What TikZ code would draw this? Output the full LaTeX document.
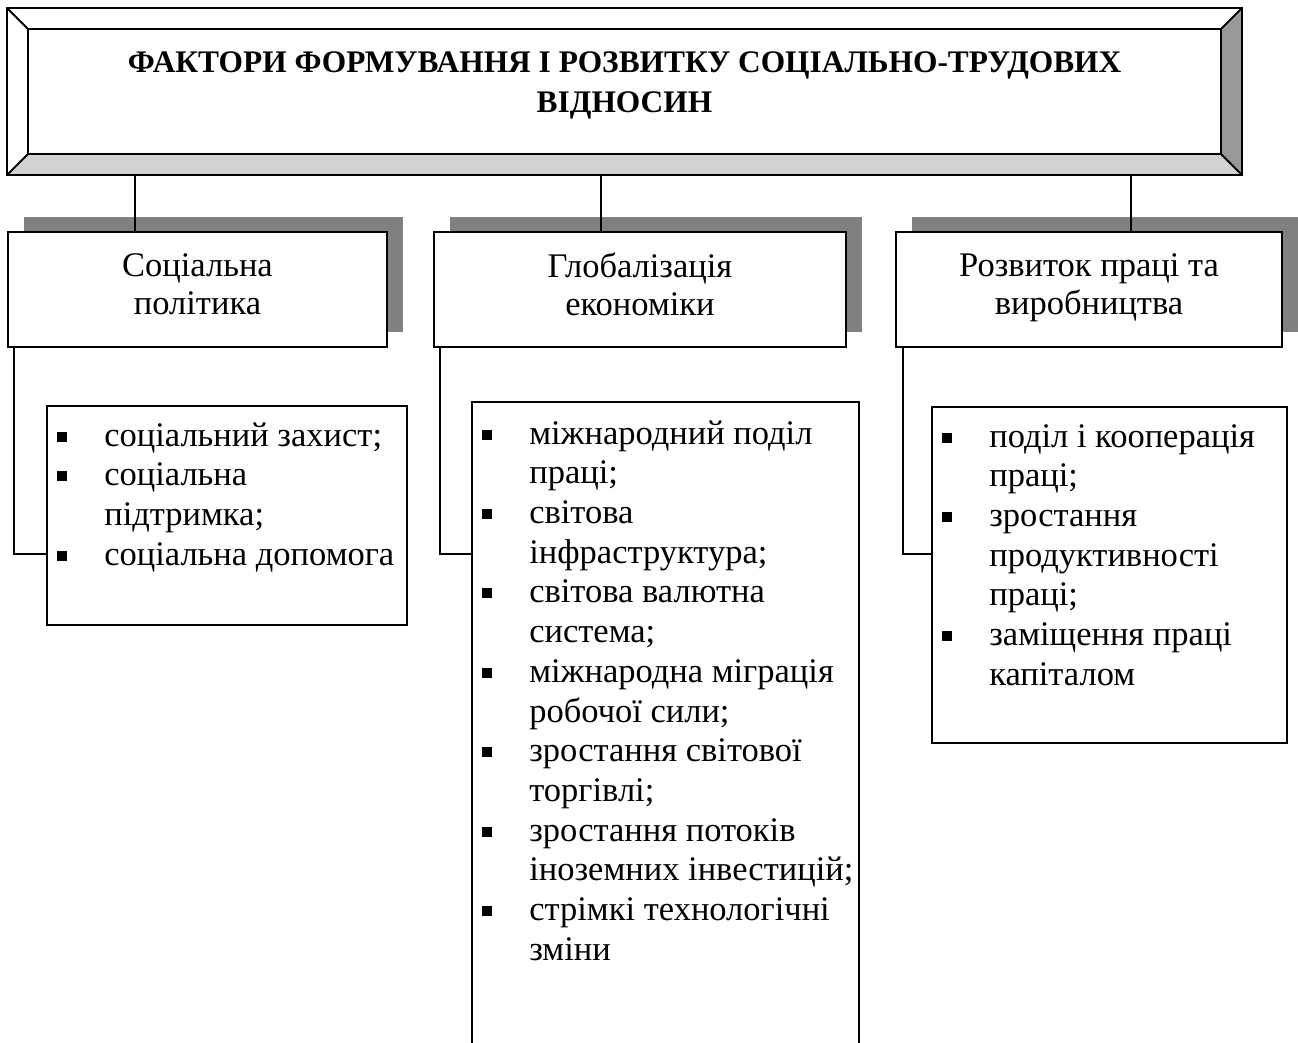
\documentclass[tikz,border=0pt]{standalone}
\usepackage{fontspec}
\setmainfont{Liberation Serif}
\usetikzlibrary{positioning,shadows}

\newcommand{\blt}{\strut\makebox[58pt][l]{\hspace{11pt}\rule[4.5pt]{10pt}{10pt}}}
\newcommand{\ind}{\strut\makebox[58pt]{}}

\begin{document}
\begin{tikzpicture}[x=1pt, y=-1pt,
    titleframe/.style={draw, line width=1.8pt},
    factor/.style={rectangle, draw, line width=1.8pt, fill=white, align=center,
      font=\fontsize{34.5}{38}\selectfont,
      execute at begin node=\strut, execute at end node=\strut,
      drop shadow={shadow xshift=16pt, shadow yshift=15pt, fill=black!50, opacity=1}},
    listbox/.style={rectangle, draw, line width=1.8pt, fill=white},
    listtext/.style={anchor=north west, inner sep=0pt, align=left,
      font=\fontsize{34.5}{39.7}\selectfont},
    link/.style={draw, line width=1.8pt}
  ]
    \useasboundingbox (0,0) rectangle (1298,1042);
    \clip (0,0) rectangle (1298,1042);

    % Заголовок
    \node[inner sep=0pt, minimum width=1235pt, minimum height=167pt] (title) at (624.5,91.5) {};
    \coordinate (iNW) at ([shift={(21pt,-21pt)}]title.north west);
    \coordinate (iNE) at ([shift={(-21pt,-21pt)}]title.north east);
    \coordinate (iSE) at ([shift={(-21pt,21pt)}]title.south east);
    \coordinate (iSW) at ([shift={(21pt,21pt)}]title.south west);
    \fill[black!18] (title.south west) -- (title.south east) -- (iSE) -- (iSW) -- cycle;
    \fill[black!40] (title.north east) -- (title.south east) -- (iSE) -- (iNE) -- cycle;
    \draw[titleframe] (iNW) rectangle (iSE);
    \draw[titleframe] (title.north west) -- (iNW) (title.north east) -- (iNE)
      (title.south east) -- (iSE) (title.south west) -- (iSW);
    \draw[titleframe] (title.north west) rectangle (title.south east);
    \node[font=\bfseries\fontsize{31.4}{40}\selectfont, align=center] (ttl)
      at ([yshift=6pt]title.center) {ФАКТОРИ ФОРМУВАННЯ І РОЗВИТКУ СОЦІАЛЬНО-ТРУДОВИХ\\ВІДНОСИН};

    % Фактори
    \node[factor, minimum width=379pt, minimum height=115pt] (soc) at (197.5,289.5) {Соціальна\\політика};
    \node[factor, minimum width=412pt, minimum height=115pt] (glob) at (640,289.5) {Глобалізація\\економіки};
    \node[factor, minimum width=386pt, minimum height=115pt] (prod) at (1089,289.5) {Розвиток праці та\\виробництва};

    \coordinate (t1) at ([xshift=-62.5pt]soc.north);
    \coordinate (t2) at ([xshift=-39pt]glob.north);
    \coordinate (t3) at ([xshift=42pt]prod.north);
    \draw[link] (t1) -- (t1 |- title.south);
    \draw[link] (t2) -- (t2 |- title.south);
    \draw[link] (t3) -- (t3 |- title.south);

    % Переліки
    \node[listbox, minimum width=360pt, minimum height=219pt] (soclist) at (227,515.5) {};
    \node[listbox, minimum width=387pt, minimum height=680pt] (globlist) at (665.5,742) {};
    \node[listbox, minimum width=355pt, minimum height=336pt] (prodlist) at (1109.5,575) {};

    \draw[link] ([xshift=7pt]soc.south west) |- ([yshift=-38.5pt]soclist.west);
    \draw[link] ([xshift=7pt]glob.south west) |- ([yshift=188pt]globlist.west);
    \draw[link] ([xshift=8pt]prod.south west) |- ([yshift=21pt]prodlist.west);

    \node[listtext] (soctext) at ([yshift=-13pt]soclist.north west) {%
      \blt соціальний захист;\\
      \blt соціальна\\
      \ind підтримка;\\
      \blt соціальна допомога};
    \node[listtext] (globtext) at ([yshift=-15pt]globlist.north west) {%
      \blt міжнародний поділ\\
      \ind праці;\\
      \blt світова\\
      \ind інфраструктура;\\
      \blt світова валютна\\
      \ind система;\\
      \blt міжнародна міграція\\
      \ind робочої сили;\\
      \blt зростання світової\\
      \ind торгівлі;\\
      \blt зростання потоків\\
      \ind іноземних інвестицій;\\
      \blt стрімкі технологічні\\
      \ind зміни};
    \node[listtext] (prodtext) at ([yshift=-13pt]prodlist.north west) {%
      \blt поділ і кооперація\\
      \ind праці;\\
      \blt зростання\\
      \ind продуктивності\\
      \ind праці;\\
      \blt заміщення праці\\
      \ind капіталом};
  \end{tikzpicture}
\end{document}
